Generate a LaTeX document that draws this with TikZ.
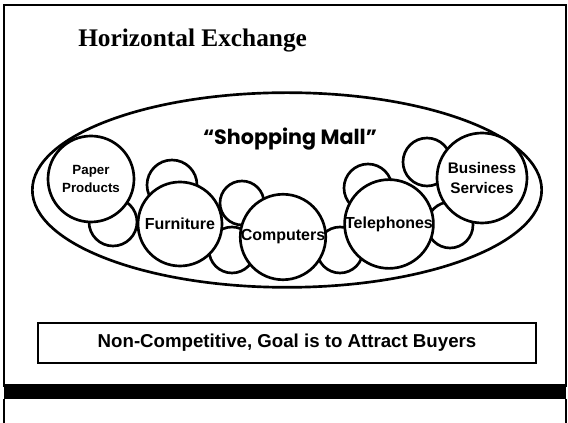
\documentclass[tikz,border=0pt]{standalone}
\usepackage{fontspec}
\setmainfont{Liberation Serif}
\newfontfamily\labelfont{Liberation Sans}
\newfontfamily\mallfont{Poppins}
\usetikzlibrary{shapes.geometric}
\tikzset{
  shop/.style={circle, draw, line width=2pt, fill=white, inner sep=0pt, align=center,
    font=\labelfont\bfseries\fontsize{12}{14}\selectfont},
  filler/.style={circle, draw, line width=2pt, fill=white, inner sep=0pt},
}
\begin{document}
\begin{tikzpicture}[x=0.75pt, y=-0.75pt]
    \useasboundingbox (0,0) rectangle (568,423);
    % Rahmen
    \draw[line width=1.1pt] (4,5) rectangle (566,386);
    \fill (4,384) rectangle (566,399);
    \draw[line width=1.1pt] (4,399) -- (4,423) (566,399) -- (566,423);

    % Titel
    \node[anchor=base west, inner sep=0pt, font=\bfseries\fontsize{19}{22}\selectfont] (title) at (78,47) {Horizontal Exchange};

    % Mall
    \node[ellipse, draw, line width=2pt, minimum width=382pt, minimum height=146pt] (mall) at (287,190) {};
    \node[anchor=base, inner sep=0pt, font=\mallfont\bfseries\fontsize{15.5}{18}\selectfont] (malltitle) at (290,145) {“Shopping Mall”};

    % kleine Kreise
    \node[filler, minimum size=36pt] (f1) at (113,222) {};
    \node[filler, minimum size=37.5pt] (f2) at (172,185) {};
    \node[filler, minimum size=33pt] (f3) at (242,203) {};
    \node[filler, minimum size=34.5pt] (f4) at (232,250) {};
    \node[filler, minimum size=34.5pt] (f5) at (340,250) {};
    \node[filler, minimum size=36pt] (f6) at (368,188) {};
    \node[filler, minimum size=36pt] (f7) at (427,162) {};
    \node[filler, minimum size=34.5pt] (f8) at (450,225) {};

    % Geschaefte
    \node[shop, minimum size=64.5pt, font=\labelfont\bfseries\fontsize{10}{13.5}\selectfont] (paper) at (91,179) {Paper\\Products};
    \node[shop, minimum size=63pt] (furniture) at (180,224) {Furniture};
    \node[shop, minimum size=61.5pt] (computers) at (283,237) {Computers};
    \node[shop, minimum size=64.5pt] (telephones) at (389,224) {Telephones};
    \node[shop, minimum size=67.5pt, font=\labelfont\bfseries\fontsize{11.5}{15}\selectfont] (business) at (482,178) {Business\\Services};

    % Ziel
    \node[draw, line width=0.8pt, minimum width=373.5pt, minimum height=30pt, font=\labelfont\bfseries\fontsize{14}{16}\selectfont] (goal) at (287,343) {Non-Competitive, Goal is to Attract Buyers};
\end{tikzpicture}
\end{document}
